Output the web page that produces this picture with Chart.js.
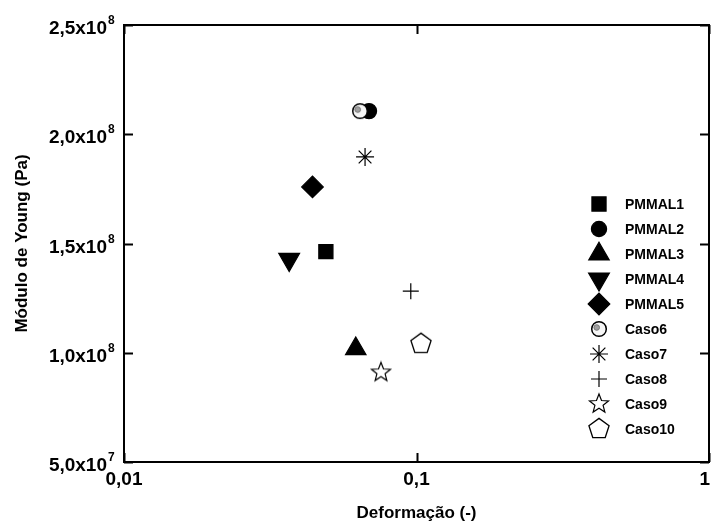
<!DOCTYPE html>
<html><head><meta charset="utf-8">
<script src="https://cdn.jsdelivr.net/npm/chart.js@4.4.1/dist/chart.umd.min.js"></script>
<style>html,body{margin:0;padding:0;background:#fff;} canvas{display:block;}</style>
</head><body>
<canvas id="c" width="711" height="527"></canvas>
<script>
// ---- data ----
const seriesNames = ['PMMAL1','PMMAL2','PMMAL3','PMMAL4','PMMAL5','Caso6','Caso7','Caso8','Caso9','Caso10'];
const strainValues = [0.049, 0.0688, 0.062, 0.0367, 0.0441, 0.0641, 0.0667, 0.0956, 0.0756, 0.1036];
const youngValues = [1.463e8, 2.106e8, 1.018e8, 1.427e8, 1.759e8, 2.106e8, 1.896e8, 1.282e8, 0.910e8, 1.041e8];
const xTickValues = [0.01, 0.1, 1];
const xTickLabels = ['0,01', '0,1', '1'];
const yTickValues = [5e7, 1e8, 1.5e8, 2e8, 2.5e8];
const yTickMantissas = ['5,0x10', '1,0x10', '1,5x10', '2,0x10', '2,5x10'];
const yTickExponents = ['7', '8', '8', '8', '8'];
const xTitle = 'Deformação (-)';
const yTitle = 'Módulo de Young (Pa)';

// ---- marker images ----
function makeCanvas(size, draw) {
  const c = document.createElement('canvas');
  c.width = size; c.height = size;
  const g = c.getContext('2d');
  draw(g, size / 2);
  return c;
}
const caso6Img = makeCanvas(20, (g, m) => {
  g.beginPath(); g.arc(m, m, 7.3, 0, Math.PI * 2);
  g.fillStyle = '#f6f6f6'; g.fill();
  g.lineWidth = 1.5; g.strokeStyle = '#000'; g.stroke();
  g.beginPath(); g.arc(m - 2.3, m - 1.5, 2.8, 0, Math.PI * 2);
  g.fillStyle = '#a0a0a0'; g.fill();
  g.lineWidth = 1; g.strokeStyle = '#777'; g.stroke();
});
function polyPath(g, m, n, R, r) {
  g.beginPath();
  const pts = r ? n * 2 : n;
  for (let i = 0; i < pts; i++) {
    const a = -Math.PI / 2 + i * Math.PI * 2 / pts;
    const rad = r ? (i % 2 ? r : R) : R;
    const x = m + rad * Math.cos(a), y = m + rad * Math.sin(a);
    if (i === 0) g.moveTo(x, y); else g.lineTo(x, y);
  }
  g.closePath();
}
const starImg = makeCanvas(24, (g, m) => {
  polyPath(g, m, 5, 10, 4.3);
  g.fillStyle = '#fff'; g.fill();
  g.lineWidth = 1.2; g.strokeStyle = '#000'; g.stroke();
});
const pentaImg = makeCanvas(26, (g, m) => {
  polyPath(g, m, 5, 10.6, 0);
  g.fillStyle = '#fff'; g.fill();
  g.lineWidth = 1.3; g.strokeStyle = '#000'; g.stroke();
});

const markerStyles = [
  { pointStyle: 'rect', radius: 10, rotation: 0, order: 1 },
  { pointStyle: 'circle', radius: 7.6, rotation: 0, order: 1 },
  { pointStyle: 'triangle', radius: 11.8, rotation: 0, order: 1 },
  { pointStyle: 'triangle', radius: 12, rotation: 180, order: 1 },
  { pointStyle: 'rectRot', radius: 10.8, rotation: 0, order: 1 },
  { pointStyle: caso6Img, radius: 8, rotation: 0, order: 0 },
  { pointStyle: 'star', radius: 9, rotation: 0, order: 0 },
  { pointStyle: 'cross', radius: 8, rotation: 0, order: 0 },
  { pointStyle: starImg, radius: 10, rotation: 0, order: 0 },
  { pointStyle: pentaImg, radius: 10, rotation: 0, order: 0 }
];

const datasets = seriesNames.map((name, i) => ({
  label: name,
  data: [{ x: strainValues[i], y: youngValues[i] }],
  pointStyle: markerStyles[i].pointStyle,
  pointRadius: markerStyles[i].radius,
  pointHoverRadius: markerStyles[i].radius,
  rotation: markerStyles[i].rotation,
  backgroundColor: '#000',
  borderColor: '#000',
  borderWidth: 1.2,
  order: markerStyles[i].order
}));

const FONT = "'Liberation Sans', Arial, sans-serif";

const framePlugin = {
  id: 'frame',
  afterDraw(chart) {
    const { ctx, chartArea: a, scales } = chart;
    const xs = scales.x, ys = scales.y;
    ctx.save();
    ctx.strokeStyle = '#000';
    ctx.lineWidth = 2;
    ctx.strokeRect(a.left, a.top, a.right - a.left, a.bottom - a.top);
    // ticks (inward)
    ctx.beginPath();
    yTickValues.forEach(v => {
      const py = Math.round(ys.getPixelForValue(v)) + 0.5;
      ctx.moveTo(a.left, py); ctx.lineTo(a.left + 9, py);
      ctx.moveTo(a.right, py); ctx.lineTo(a.right - 9, py);
    });
    xTickValues.forEach(v => {
      const px = Math.round(xs.getPixelForValue(v)) + 0.5;
      ctx.moveTo(px, a.bottom); ctx.lineTo(px, a.bottom - 9);
      ctx.moveTo(px, a.top); ctx.lineTo(px, a.top + 9);
    });
    ctx.stroke();

    ctx.fillStyle = '#000';
    // y tick labels with superscript
    yTickValues.forEach((v, i) => {
      const py = ys.getPixelForValue(v);
      ctx.font = 'bold 19px ' + FONT;
      ctx.textAlign = 'right';
      ctx.textBaseline = 'alphabetic';
      ctx.fillText(yTickMantissas[i], 107, py + 9);
      ctx.font = 'bold 12px ' + FONT;
      ctx.textAlign = 'left';
      ctx.fillText(yTickExponents[i], 108, py - 1);
    });
    // x tick labels
    ctx.font = 'bold 19px ' + FONT;
    ctx.textBaseline = 'alphabetic';
    ctx.textAlign = 'center';
    xTickValues.forEach((v, i) => {
      let px = xs.getPixelForValue(v);
      const w = ctx.measureText(xTickLabels[i]).width;
      if (px + w / 2 > chart.width - 1) px = chart.width - 1 - w / 2;
      ctx.fillText(xTickLabels[i], px, 485);
    });
    // axis titles
    ctx.font = 'bold 17px ' + FONT;
    ctx.textAlign = 'center';
    ctx.fillText(xTitle, (a.left + a.right) / 2, 518);
    ctx.save();
    ctx.translate(27, (a.top + a.bottom) / 2);
    ctx.rotate(-Math.PI / 2);
    ctx.fillText(yTitle, 0, 0);
    ctx.restore();

    // legend
    datasets.forEach((ds, i) => {
      const y = 204 + 25 * i;
      ctx.save();
      ctx.fillStyle = '#000'; ctx.strokeStyle = '#000';
      ctx.lineWidth = 1.2;
      Chart.helpers.drawPoint(ctx, {
        pointStyle: ds.pointStyle, radius: ds.pointRadius, rotation: ds.rotation, borderWidth: 1.2
      }, 599, y);
      ctx.restore();
      ctx.font = 'bold 14px ' + FONT;
      ctx.textAlign = 'left';
      ctx.textBaseline = 'middle';
      ctx.fillText(ds.label, 625, y + 1);
    });
    ctx.restore();
  }
};

new Chart(document.getElementById('c'), {
  type: 'scatter',
  data: { datasets },
  options: {
    responsive: false,
    animation: false,
    events: [],
    layout: { autoPadding: false, padding: { top: 25, right: 2, left: 0, bottom: 0 } },
    plugins: { legend: { display: false }, tooltip: { enabled: false } },
    scales: {
      x: {
        type: 'logarithmic', min: 0.01, max: 1,
        ticks: { display: false },
        grid: { display: false },
        border: { display: false },
        afterFit(s) { s.height = 65; s.paddingLeft = 0; s.paddingRight = 0; }
      },
      y: {
        type: 'linear', min: 5e7, max: 2.5e8,
        ticks: { display: false },
        grid: { display: false },
        border: { display: false },
        afterFit(s) { s.width = 124; s.paddingTop = 0; s.paddingBottom = 0; }
      }
    }
  },
  plugins: [framePlugin]
});
</script>
</body></html>
